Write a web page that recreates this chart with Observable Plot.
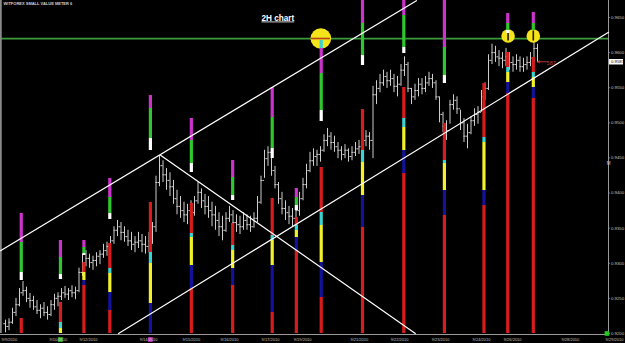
<!DOCTYPE html>
<html><head><meta charset="utf-8">
<script src="https://cdn.jsdelivr.net/npm/d3@7"></script>
<script src="https://cdn.jsdelivr.net/npm/@observablehq/plot@0.6"></script>
<style>
html,body{margin:0;padding:0;background:#000;}
#wrap{position:relative;width:625px;height:343px;background:#000;overflow:hidden;}
#wrap svg{position:absolute;left:0;top:0;}
</style></head><body><div id="wrap"></div>
<script>
// ---- price bars (2H), index 0..152 ----
const highs = [
0.9219,0.9221,0.9236,0.9250,0.9264,0.9274,0.9266,0.9257,0.9253,0.9247,
0.9241,0.9244,0.9238,0.9247,0.9256,0.9258,0.9264,0.9267,0.9264,0.9268,
0.9266,0.9293,0.9313,0.9318,0.9313,0.9310,0.9315,0.9318,0.9327,0.9330,
0.9338,0.9352,0.9361,0.9358,0.9352,0.9347,0.9344,0.9338,0.9344,0.9341,
0.9338,0.9344,0.9358,0.9424,0.9453,0.9446,0.9435,0.9429,0.9418,0.9404,
0.9395,0.9387,0.9384,0.9389,0.9395,0.9415,0.9406,0.9398,0.9395,0.9387,
0.9381,0.9372,0.9367,0.9372,0.9381,0.9375,0.9369,0.9367,0.9372,0.9369,
0.9367,0.9372,0.9395,0.9424,0.9461,0.9466,0.9463,0.9438,0.9415,0.9401,
0.9389,0.9381,0.9378,0.9384,0.9401,0.9421,0.9441,0.9458,0.9463,0.9461,
0.9466,0.9483,0.9492,0.9486,0.9481,0.9472,0.9466,0.9469,0.9463,0.9466,
0.9472,0.9475,0.9483,0.9489,0.9486,0.9552,0.9560,0.9569,0.9575,0.9572,
0.9575,0.9569,0.9566,0.9583,0.9594,0.9586,0.9549,0.9555,0.9563,0.9563,
0.9566,0.9572,0.9569,0.9560,0.9537,0.9515,0.9503,0.9532,0.9540,0.9537,
0.9518,0.9506,0.9498,0.9509,0.9520,0.9523,0.9546,0.9557,0.9597,0.9612,
0.9609,0.9603,0.9600,0.9606,0.9600,0.9594,0.9597,0.9594,0.9592,0.9594,
0.9600,0.9617,0.9612];
const lows = [
0.9201,0.9204,0.9213,0.9224,0.9238,0.9253,0.9244,0.9236,0.9233,0.9227,
0.9221,0.9224,0.9219,0.9224,0.9233,0.9238,0.9247,0.9250,0.9247,0.9251,
0.9248,0.9258,0.9281,0.9295,0.9293,0.9290,0.9295,0.9298,0.9307,0.9310,
0.9315,0.9327,0.9338,0.9332,0.9330,0.9324,0.9318,0.9315,0.9321,0.9315,
0.9313,0.9315,0.9327,0.9344,0.9409,0.9415,0.9404,0.9395,0.9384,0.9369,
0.9364,0.9358,0.9355,0.9361,0.9367,0.9384,0.9378,0.9369,0.9364,0.9352,
0.9347,0.9338,0.9332,0.9344,0.9358,0.9350,0.9344,0.9341,0.9347,0.9347,
0.9344,0.9350,0.9358,0.9384,0.9421,0.9438,0.9424,0.9406,0.9384,0.9369,
0.9361,0.9355,0.9352,0.9358,0.9367,0.9389,0.9406,0.9429,0.9438,0.9438,
0.9444,0.9458,0.9466,0.9461,0.9458,0.9449,0.9446,0.9449,0.9444,0.9446,
0.9452,0.9455,0.9461,0.9466,0.9461,0.9449,0.9526,0.9543,0.9552,0.9549,
0.9552,0.9543,0.9537,0.9552,0.9566,0.9543,0.9526,0.9532,0.9537,0.9540,
0.9543,0.9552,0.9549,0.9532,0.9500,0.9486,0.9475,0.9498,0.9518,0.9512,
0.9489,0.9472,0.9463,0.9483,0.9495,0.9498,0.9515,0.9532,0.9546,0.9583,
0.9586,0.9580,0.9577,0.9580,0.9575,0.9572,0.9575,0.9572,0.9572,0.9575,
0.9580,0.9586,0.9586];
const closes = [
0.9210,0.9216,0.9230,0.9241,0.9258,0.9261,0.9250,0.9247,0.9238,0.9233,
0.9236,0.9230,0.9227,0.9241,0.9250,0.9253,0.9258,0.9256,0.9261,0.9258,
0.9261,0.9287,0.9301,0.9307,0.9301,0.9304,0.9310,0.9313,0.9318,0.9324,
0.9332,0.9347,0.9352,0.9344,0.9338,0.9332,0.9327,0.9330,0.9332,0.9327,
0.9324,0.9332,0.9352,0.9415,0.9439,0.9426,0.9418,0.9409,0.9392,0.9381,
0.9375,0.9369,0.9375,0.9372,0.9389,0.9401,0.9389,0.9381,0.9375,0.9369,
0.9361,0.9352,0.9347,0.9364,0.9369,0.9358,0.9355,0.9352,0.9361,0.9355,
0.9352,0.9364,0.9387,0.9418,0.9449,0.9458,0.9432,0.9412,0.9392,0.9378,
0.9372,0.9367,0.9364,0.9375,0.9392,0.9412,0.9432,0.9446,0.9452,0.9455,
0.9461,0.9475,0.9481,0.9472,0.9466,0.9461,0.9455,0.9461,0.9452,0.9458,
0.9463,0.9466,0.9475,0.9481,0.9475,0.9540,0.9549,0.9557,0.9566,0.9560,
0.9563,0.9552,0.9555,0.9575,0.9583,0.9549,0.9537,0.9546,0.9555,0.9549,
0.9557,0.9563,0.9557,0.9537,0.9512,0.9495,0.9489,0.9526,0.9532,0.9520,
0.9500,0.9481,0.9486,0.9503,0.9512,0.9515,0.9537,0.9549,0.9589,0.9600,
0.9594,0.9592,0.9589,0.9594,0.9586,0.9583,0.9589,0.9580,0.9583,0.9586,
0.9592,0.9606,0.9587];
const firstOpen = 0.9214;

// ---- axis labels ----
const dateLabels = ["9/9/2010","9/10/2010","9/12/2010","9/14/2010","9/15/2010","9/16/2010","9/17/2010","9/19/2010","9/21/2010","9/22/2010","9/23/2010","9/24/2010","9/26/2010","9/28/2010","9/29/2010"];
const datePos = [1.1,15.1,23.7,40.9,53.1,64.0,75.7,84.9,101.1,112.6,124.3,136.0,144.9,161.4,174.0];
const priceTicks = [0.9200,0.9250,0.9300,0.9350,0.9400,0.9450,0.9500,0.9550,0.9600,0.9650];

// ---- drawn levels / trend lines (bar index, price) ----
const resistance = 0.9620;
const upperChannel = [[-1.43,0.9318],[117.4,0.9674]];
const lowerChannel = [[32.3,0.9200],[172.3,0.9629]];
const fallingLine  = [[44.3,0.9454],[117.1,0.9200]];

// ---- volume meter: bar index and stacked segments [from, to, colour] ----
const meterPos = [4.5,15.7,22.4,29.8,41.4,53.1,64.9,76.2,83.1,90.2,102,113.8,125.4,136.7,143.5,150.8];
const meterSegs = [
 [[0,15,"r"],[53,61,"w"],[61,91,"g"],[91,120,"m"]],
 [[0,5,"y"],[5,11,"c"],[11,31,"r"],[54,59,"w"],[59,76,"g"],[76,93,"m"]],
 [[0,48,"r"],[48,53,"b"],[53,61,"y"],[61,71,"r"],[78,80,"w"],[80,86,"g"],[86,93,"m"]],
 [[0,23,"r"],[23,41,"b"],[41,60,"y"],[60,65,"c"],[65,90,"r"],[114,120,"w"],[120,136,"g"],[136,155,"m"]],
 [[0,30,"b"],[30,70,"y"],[70,81,"c"],[81,131,"r"],[183,195,"w"],[195,225,"g"],[225,238,"m"]],
 [[0,45,"r"],[45,68,"b"],[68,96,"y"],[96,100,"c"],[100,130,"r"],[161,170,"w"],[170,193,"g"],[193,215,"m"]],
 [[0,48,"r"],[48,65,"b"],[65,83,"y"],[83,88,"c"],[88,110,"r"],[133,138,"w"],[138,156,"g"],[156,173,"m"]],
 [[0,21,"r"],[21,68,"b"],[68,93,"y"],[93,98,"c"],[98,135,"r"],[175,185,"w"],[185,216,"g"],[216,246,"m"]],
 [[0,83,"r"],[83,96,"b"],[96,103,"y"],[103,108,"c"],[108,116,"r"],[123,128,"w"],[128,136,"g"],[136,145,"m"]],
 [[0,36,"r"],[36,71,"b"],[71,108,"y"],[108,121,"c"],[121,166,"r"],[212,223,"w"],[223,260,"g"],[260,285,"m"],[285,293,"c"]],
 [[0,106,"r"],[106,138,"b"],[138,171,"y"],[171,183,"c"],[183,224,"r"],[268,278,"w"],[278,310,"g"],[310,333,"m"]],
 [[0,160,"r"],[160,183,"b"],[183,206,"y"],[206,215,"c"],[215,246,"r"],[280,286,"w"],[286,318,"g"],[318,333,"m"]],
 [[0,118,"r"],[118,143,"b"],[143,170,"y"],[170,173,"c"],[173,210,"r"],[250,258,"w"],[258,286,"g"],[286,333,"m"]],
 [[0,128,"r"],[128,143,"b"],[143,191,"y"],[191,196,"c"],[196,250,"r"]],
 [[0,240,"r"],[240,251,"b"],[251,261,"y"],[261,266,"c"],[266,281,"r"],[300,303,"w"],[303,310,"g"],[310,320,"m"]],
 [[0,235,"r"],[235,246,"b"],[246,256,"y"],[256,261,"c"],[261,276,"r"],[303,310,"g"],[310,321,"m"]]
];
const meterColors = {r:"#d81c1c",b:"#12129a",y:"#f2f026",c:"#3ad2d2",g:"#2ec82e",m:"#cc32cc",w:"#ffffff"};
// highlight circles (bar index, meter level)
const bigMark = [[90.1,295]];
const smallMarks = [[143.6,297.5],[150.8,297.5]];
const bottomMarks = [[15.7,-6,"g"],[41.4,-6,"m"]];

// ---- layout ----
const W = 625, H = 343, MR = 17, MB = 10;
const xDom = [-5/3.5, (608-5)/3.5];
const base = {
  width: W, height: H, marginLeft: 0, marginRight: MR, marginTop: 0, marginBottom: MB,
  x: {domain: xDom, axis: null},
  style: {background: "transparent", overflow: "visible", fontFamily: "'Liberation Sans', Arial, sans-serif"}
};
const priceY = {domain: [0.92, 0.92 + 333/7022], axis: null};
const lastI = closes.length - 1;
const candles = highs.map((h, i) => ({i, h, l: lows[i], c: closes[i], o: i ? closes[i-1] : firstOpen}));
const candleCol = "#cdcdcd";

const plotA = Plot.plot({...base, y: priceY, marks: [
  Plot.ruleY([resistance], {stroke: "#3c9c3c", strokeWidth: 1.6}),
  Plot.ruleX(candles, {x: "i", y1: "l", y2: "h", stroke: candleCol, strokeWidth: 1}),
  Plot.ruleY(candles, {y: "o", x1: d => d.i - 0.45, x2: "i", stroke: candleCol, strokeWidth: 1}),
  Plot.ruleY(candles, {y: "c", x1: "i", x2: d => d.i + 0.45, stroke: candleCol, strokeWidth: 1})
]});

const segs = meterSegs.flatMap((list, k) => list.map(([lo, hi, c]) => ({x: meterPos[k], lo, hi, c})));
const plotB = Plot.plot({...base, y: {domain: [0, 333], axis: null}, marks: [
  Plot.dot(bigMark, {x: d => d[0], y: d => d[1], r: 10.3, fill: "#f4e41a", stroke: "none"}),
  Plot.dot(smallMarks, {x: d => d[0], y: d => d[1], r: 6.8, fill: "#f4e41a", stroke: "none"}),
  Plot.ruleY(bigMark, {y: d => d[1], x1: d => d[0] - 2.75, x2: d => d[0] + 2.75, stroke: "#b8451c", strokeWidth: 1.6}),
  Plot.ruleX(smallMarks, {x: d => d[0], y1: d => d[1] - 5, y2: d => d[1] + 5, stroke: "#2a1a00", strokeWidth: 1.6}),
  Plot.ruleX(segs, {x: "x", y1: "lo", y2: "hi", stroke: d => meterColors[d.c], strokeWidth: 3.2}),
  Plot.dot(bottomMarks, {x: d => d[0], y: d => d[1], r: 2.6, symbol: "square", fill: d => meterColors[d[2]], stroke: "none"})
]});

const lineMark = (pts) => Plot.line(pts, {x: d => d[0], y: d => d[1], stroke: "#ffffff", strokeWidth: 1.2});
const plotC = Plot.plot({...base, y: priceY, marks: [
  Plot.ruleX([xDom[0]], {stroke: "#8a8a8a", strokeWidth: 2.5}),
  Plot.ruleX([xDom[1]], {stroke: "#9a9a9a", strokeWidth: 1}),
  Plot.ruleY([0.92], {stroke: "#9a9a9a", strokeWidth: 1, dy: 1}),
  lineMark(upperChannel),
  lineMark(lowerChannel),
  lineMark(fallingLine),
  Plot.ruleY(priceTicks, {x1: xDom[1], x2: xDom[1] + 0.5, stroke: "#9a9a9a"}),
  Plot.text(priceTicks, {x: xDom[1], y: d => d, text: d => d3.format(".4f")(d), dx: 2.5, textAnchor: "start", fontSize: 4.3, fill: "#c4c4c4"}),
  Plot.ruleY([closes[lastI]], {x1: xDom[1] + 0.3, x2: xDom[1] + 4.3, stroke: "#ffffff", strokeWidth: 5.5}),
  Plot.text([closes[lastI]], {x: xDom[1], y: d => d, text: d => d3.format(".4f")(d), dx: 2.5, textAnchor: "start", fontSize: 4.3, fill: "#000"}),
  Plot.text(["M"], {x: xDom[1], y: 0.9442, text: d => d, fontSize: 4.5, fill: "#cfcfcf"}),
  Plot.dot([0.92], {x: xDom[1] - 0.45, y: d => d, symbol: "square", r: 2.6, fill: "#22cc22"}),
  Plot.arrow([closes[lastI]], {x1: lastI + 2.5, x2: lastI + 0.1, y1: d => d, y2: d => d, stroke: "#b83434", strokeWidth: 1, headLength: 3}),
  Plot.text([closes[lastI]], {x: lastI + 2.6, y: d => d, text: d => d3.format(".4f")(d).slice(-3), textAnchor: "start", dy: 1.5, fontSize: 5.5, fill: "#c03a3a"}),
  Plot.text(dateLabels, {x: (d, i) => datePos[i], text: d => d, frameAnchor: "bottom", dy: 6.5, lineAnchor: "middle", fontSize: 4, fill: "#c4c4c4"}),
  Plot.text(["WITFOREX SMALL VALUE METER 6"], {frameAnchor: "top-left", dx: 3, dy: 2, lineAnchor: "top", fontSize: 4, fontWeight: "bold", fill: "#d0d0d0"}),
  Plot.text(["2H chart"], {frameAnchor: "top-left", dx: 261, dy: 20, lineAnchor: "bottom", textAnchor: "start", fontSize: 8.2, fontWeight: "bold", fill: "#ffffff"})
]});
plotC.querySelectorAll("text").forEach(t => { if (t.textContent === "2H chart") t.setAttribute("text-decoration", "underline"); });

const wrap = document.getElementById("wrap");
wrap.appendChild(plotA);
wrap.appendChild(plotB);
wrap.appendChild(plotC);
</script>
</body></html>
